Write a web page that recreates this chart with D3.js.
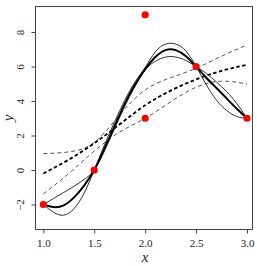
<!DOCTYPE html>
<html><head><meta charset="utf-8">
<script src="https://d3js.org/d3.v7.min.js"></script>
<style>body{margin:0;background:#fff}svg{display:block}</style>
</head><body>
<svg id="c" width="257" height="266"></svg>
<script>
// data
const pointsX = [1.0, 1.5, 2.0, 2.0, 2.5, 3.0];
const pointsY = [-2, 0, 9, 3, 6, 3];

const solidX = [1.0,1.1,1.2,1.3,1.4,1.5,1.6,1.7,1.8,1.9,2.0,2.1,2.2,2.3,2.4,2.5,2.6,2.7,2.8,2.9,3.0];
const fitMain  = [-2.0,-2.15,-2.05,-1.6,-0.9,0.0,1.25,2.55,3.85,4.95,5.85,6.55,6.95,6.95,6.6,6.0,5.35,4.75,4.15,3.55,3.0];
const fitWiggly= [-2.0,-2.45,-2.62,-2.25,-1.35,0.0,1.45,2.8,4.05,5.1,5.95,6.85,7.3,7.3,6.9,6.0,4.95,4.05,3.45,3.1,3.0];
const fitSmooth= [-2.0,-1.65,-1.3,-0.95,-0.55,0.0,1.1,2.4,3.7,4.85,5.8,6.3,6.55,6.55,6.35,6.0,5.6,5.1,4.55,3.85,3.0];

const dashX = [1.0,1.25,1.5,1.75,2.0,2.25,2.5,2.75,3.0];
const trendMain  = [-0.2,0.6,1.55,2.65,3.75,4.6,5.25,5.75,6.1];
const trendUpper = [0.95,1.05,1.6,3.2,4.64,5.35,5.9,6.6,7.25];
const trendLower = [-1.39,-0.2,1.1,2.2,3.0,3.95,4.8,5.15,4.99];

const xTicks = [1.0,1.5,2.0,2.5,3.0];
const yTicks = [-2,0,2,4,6,8];
const xLim = [0.923, 3.054];
const yLim = [-3.45, 9.48];

const svg = d3.select("#c");
const L = 35.5, R = 252.5, T = 6.5, B = 229.5;
const x = d3.scaleLinear().domain(xLim).range([L, R]);
const y = d3.scaleLinear().domain(yLim).range([B, T]);

const line = d3.line().x(d=>x(d[0])).y(d=>y(d[1])).curve(d3.curveNatural);
const zip = (xs, ys) => xs.map((v,i)=>[v, ys[i]]);

const g = svg.append("g");
// dashed
g.append("path").attr("d", line(zip(dashX, trendUpper))).attr("fill","none").attr("stroke","#555").attr("stroke-width",1).attr("stroke-dasharray","4,3");
g.append("path").attr("d", line(zip(dashX, trendLower))).attr("fill","none").attr("stroke","#555").attr("stroke-width",1).attr("stroke-dasharray","4,3");
g.append("path").attr("d", line(zip(dashX, trendMain))).attr("fill","none").attr("stroke","#000").attr("stroke-width",1.8).attr("stroke-dasharray","3.5,2.5");
// solid
g.append("path").attr("d", line(zip(solidX, fitWiggly))).attr("fill","none").attr("stroke","#333").attr("stroke-width",1);
g.append("path").attr("d", line(zip(solidX, fitSmooth))).attr("fill","none").attr("stroke","#333").attr("stroke-width",1);
g.append("path").attr("d", line(zip(solidX, fitMain))).attr("fill","none").attr("stroke","#000").attr("stroke-width",2);

// points
g.selectAll("circle").data(zip(pointsX, pointsY)).enter().append("circle")
  .attr("cx", d=>x(d[0])).attr("cy", d=>y(d[1])).attr("r", 3.6).attr("fill", "#ff0000");

// box
svg.append("rect").attr("x", L).attr("y", T).attr("width", R-L).attr("height", B-T)
  .attr("fill","none").attr("stroke","#444").attr("stroke-width",1);

// x axis
const xa = svg.append("g").attr("transform", `translate(0,${B})`)
  .call(d3.axisBottom(x).tickValues(xTicks).tickFormat(d3.format(".1f")).tickSize(4).tickSizeOuter(0));
xa.select(".domain").remove();
xa.selectAll("line").attr("stroke","#444");
xa.selectAll("text").attr("font-family","'Liberation Serif', serif").attr("font-size",11).attr("fill","#222").attr("dy","0.95em");

// y axis
const ya = svg.append("g").attr("transform", `translate(${L},0)`)
  .call(d3.axisLeft(y).tickValues(yTicks).tickSize(4).tickSizeOuter(0));
ya.select(".domain").remove();
ya.selectAll("line").attr("stroke","#444");
ya.selectAll("text").attr("font-family","'Liberation Serif', serif").attr("font-size",11).attr("fill","#222")
  .attr("x", null).attr("dy", null).attr("text-anchor","middle")
  .attr("transform", "translate(-12,0) rotate(-90)");

// axis titles
svg.append("text").attr("x", (x(1)+x(3))/2).attr("y", 262).attr("text-anchor","middle")
  .attr("font-family","'Liberation Serif', serif").attr("font-style","italic").attr("font-size",15).attr("fill","#222").text("x");
svg.append("text").attr("transform", `translate(13,${(T+B)/2}) rotate(-90)`).attr("text-anchor","middle")
  .attr("font-family","'Liberation Serif', serif").attr("font-style","italic").attr("font-size",15).attr("fill","#222").text("y");
</script>
</body></html>
